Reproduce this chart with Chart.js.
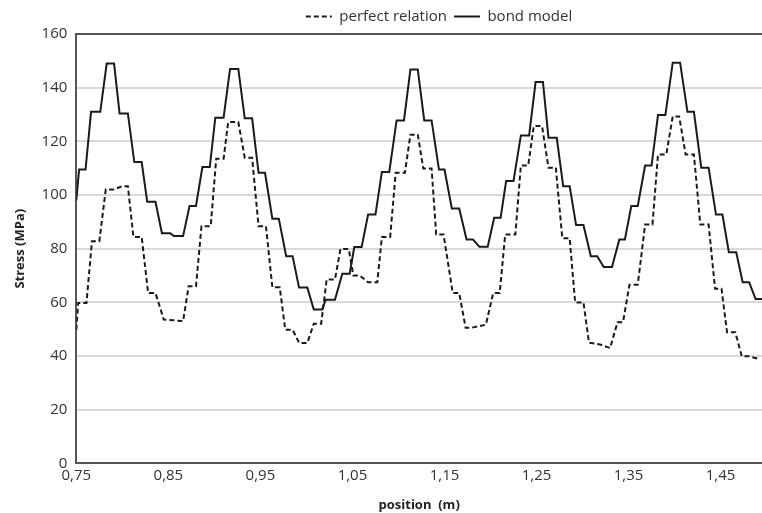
<!DOCTYPE html>
<html>
<head>
<meta charset="utf-8">
<script src="https://cdn.jsdelivr.net/npm/chart.js@4.4.1/dist/chart.umd.min.js"></script>
<style>
  html, body { margin: 0; padding: 0; background: #fff; }
  #wrap { width: 762px; height: 513px; }
</style>
</head>
<body>
<div id="wrap"><canvas id="chart" width="762" height="513"></canvas></div>
<script>
// tick labels
const xTicks = [0.75, 0.85, 0.95, 1.05, 1.15, 1.25, 1.35, 1.45];
const yTicks = [0, 20, 40, 60, 80, 100, 120, 140, 160];

// perfect relation (dashed)
const perfX = [0.750, 0.752, 0.761, 0.767, 0.775, 0.782, 0.791, 0.800, 0.806, 0.812, 0.821, 0.828, 0.836, 0.845, 0.856, 0.866,
  0.872, 0.880, 0.886, 0.896, 0.902, 0.910, 0.915, 0.926, 0.933, 0.941, 0.948, 0.956, 0.963, 0.971, 0.977, 0.985,
  0.992, 1.001, 1.008, 1.016, 1.022, 1.031, 1.037, 1.046, 1.051, 1.058, 1.067, 1.077, 1.082, 1.091, 1.097, 1.107,
  1.113, 1.121, 1.127, 1.136, 1.141, 1.149, 1.159, 1.166, 1.173, 1.179, 1.195, 1.203, 1.210, 1.216, 1.227, 1.233,
  1.241, 1.247, 1.256, 1.263, 1.271, 1.278, 1.286, 1.292, 1.301, 1.307, 1.319, 1.330, 1.338, 1.344, 1.351, 1.360,
  1.368, 1.376, 1.382, 1.391, 1.398, 1.405, 1.412, 1.421, 1.428, 1.437, 1.444, 1.451, 1.457, 1.466, 1.473, 1.481, 1.492];
const perfY = [49.8, 59.8, 59.8, 82.8, 82.8, 102.1, 102.1, 103.3, 103.3, 84.4, 84.4, 63.5, 63.5, 53.6, 53.3, 53.0,
  66.0, 66.0, 88.4, 88.4, 113.5, 113.5, 127.2, 127.2, 113.9, 113.9, 88.4, 88.4, 65.6, 65.6, 49.8, 49.8,
  44.9, 44.9, 52.0, 52.0, 68.5, 68.5, 79.9, 79.9, 70.0, 70.0, 67.5, 67.5, 84.4, 84.4, 108.3, 108.3,
  122.5, 122.5, 109.9, 109.9, 85.3, 85.3, 63.5, 63.5, 50.5, 50.5, 51.7, 63.5, 63.5, 85.3, 85.3, 111.0,
  111.0, 125.7, 125.7, 110.2, 110.2, 83.9, 83.9, 60.0, 60.0, 45.0, 44.3, 43.0, 52.6, 52.6, 66.6, 66.6,
  89.0, 89.0, 115.1, 115.1, 129.3, 129.3, 115.1, 115.1, 89.0, 89.0, 65.1, 65.1, 48.9, 48.9, 39.9, 39.9, 38.9];

// bond model (solid)
const bondX = [0.750, 0.753, 0.760, 0.766, 0.776, 0.783, 0.791, 0.797, 0.806, 0.813, 0.821, 0.827, 0.836, 0.843, 0.852, 0.856,
  0.866, 0.873, 0.880, 0.887, 0.895, 0.901, 0.910, 0.917, 0.926, 0.933, 0.941, 0.948, 0.955, 0.963, 0.970, 0.978,
  0.985, 0.992, 1.001, 1.008, 1.017, 1.021, 1.031, 1.039, 1.047, 1.052, 1.060, 1.067, 1.075, 1.082, 1.090, 1.098,
  1.106, 1.113, 1.121, 1.128, 1.136, 1.144, 1.150, 1.158, 1.166, 1.174, 1.181, 1.188, 1.197, 1.204, 1.211, 1.217,
  1.225, 1.233, 1.242, 1.249, 1.257, 1.263, 1.272, 1.279, 1.286, 1.293, 1.301, 1.309, 1.316, 1.323, 1.332, 1.340,
  1.346, 1.353, 1.360, 1.368, 1.375, 1.382, 1.390, 1.398, 1.406, 1.414, 1.421, 1.429, 1.437, 1.445, 1.452, 1.459,
  1.467, 1.474, 1.481, 1.488, 1.495];
const bondY = [98.0, 109.5, 109.5, 131.0, 131.0, 149.0, 149.0, 130.4, 130.4, 112.3, 112.3, 97.5, 97.5, 85.8, 85.8, 84.7,
  84.7, 95.9, 95.9, 110.4, 110.4, 128.8, 128.8, 147.0, 147.0, 128.6, 128.6, 108.3, 108.3, 91.2, 91.2, 77.2,
  77.2, 65.5, 65.5, 57.3, 57.3, 61.0, 61.0, 70.7, 70.7, 80.6, 80.6, 92.7, 92.7, 108.6, 108.6, 127.8,
  127.8, 146.8, 146.8, 127.8, 127.8, 109.5, 109.5, 95.0, 95.0, 83.4, 83.4, 80.7, 80.7, 91.5, 91.5, 105.2,
  105.2, 122.2, 122.2, 142.1, 142.1, 121.3, 121.3, 103.3, 103.3, 88.8, 88.8, 77.2, 77.2, 73.2, 73.2, 83.4,
  83.4, 95.9, 95.9, 111.0, 111.0, 129.8, 129.8, 149.3, 149.3, 131.0, 131.0, 110.2, 110.2, 92.7, 92.7, 78.7,
  78.7, 67.5, 67.5, 61.3, 61.3];

const toPoints = (xs, ys) => xs.map((x, i) => ({ x: x, y: ys[i] }));

const font = "'Open Sans', 'DejaVu Sans', sans-serif";

// legend sits a bit right of the canvas centre in the original
const legendShift = {
  id: 'legendShift',
  afterLayout(chart) {
    const lg = chart.legend;
    if (lg) { lg.left += 52; lg.right += 52; }
  }
};

new Chart(document.getElementById('chart').getContext('2d'), {
  type: 'scatter',
  data: {
    datasets: [{
      label: 'perfect relation',
      data: toPoints(perfX, perfY),
      showLine: true,
      borderColor: '#1a1a1a',
      borderWidth: 2,
      borderDash: [5, 3],
      pointRadius: 0,
      fill: false
    }, {
      label: 'bond model',
      data: toPoints(bondX, bondY),
      showLine: true,
      borderColor: '#1a1a1a',
      borderWidth: 2,
      pointRadius: 0,
      fill: false
    }]
  },
  options: {
    responsive: false,
    animation: false,
    layout: { padding: { top: 2, right: 0, left: 12, bottom: 0 } },
    plugins: {
      legend: {
        position: 'top',
        labels: {
          usePointStyle: true,
          pointStyle: 'line',
          pointStyleWidth: 26,
          color: '#333',
          font: { family: font, size: 15 },
          padding: 7,
          generateLabels: (chart) => chart.data.datasets.map((ds, i) => ({
            text: ds.label,
            datasetIndex: i,
            strokeStyle: ds.borderColor,
            fillStyle: ds.borderColor,
            fontColor: '#333',
            lineWidth: 2,
            lineDash: ds.borderDash || [],
            pointStyle: 'line',
            hidden: false
          }))
        }
      },
      tooltip: { enabled: false }
    },
    scales: {
      x: {
        type: 'linear',
        min: 0.75,
        max: 1.495,
        afterBuildTicks: (axis) => { axis.ticks = xTicks.map(v => ({ value: v })); },
        grid: { display: false, drawTicks: false },
        border: { color: '#555', width: 2 },
        ticks: {
          color: '#333',
          font: { family: font, size: 15 },
          padding: 3,
          maxRotation: 0,
          callback: (v) => v.toFixed(2).replace('.', ',')
        },
        title: {
          display: true,
          text: 'position  (m)',
          color: '#222',
          font: { family: font, size: 13, weight: 'bold' },
          padding: { top: 10, bottom: 0 }
        }
      },
      y: {
        min: 0,
        max: 160,
        afterBuildTicks: (axis) => { axis.ticks = yTicks.map(v => ({ value: v })); },
        grid: {
          drawTicks: false,
          color: (ctx) => ctx.tick && ctx.tick.value === 160 ? '#555' : '#d9d9d9',
          lineWidth: 2
        },
        border: { color: '#555', width: 2 },
        ticks: {
          color: '#333',
          font: { family: font, size: 15 },
          padding: 9
        },
        title: {
          display: true,
          text: 'Stress (MPa)',
          color: '#222',
          font: { family: font, size: 13, weight: 'bold' },
          padding: { top: 0, bottom: 5 }
        }
      }
    }
  },
  plugins: [legendShift]
});
</script>
</body>
</html>
